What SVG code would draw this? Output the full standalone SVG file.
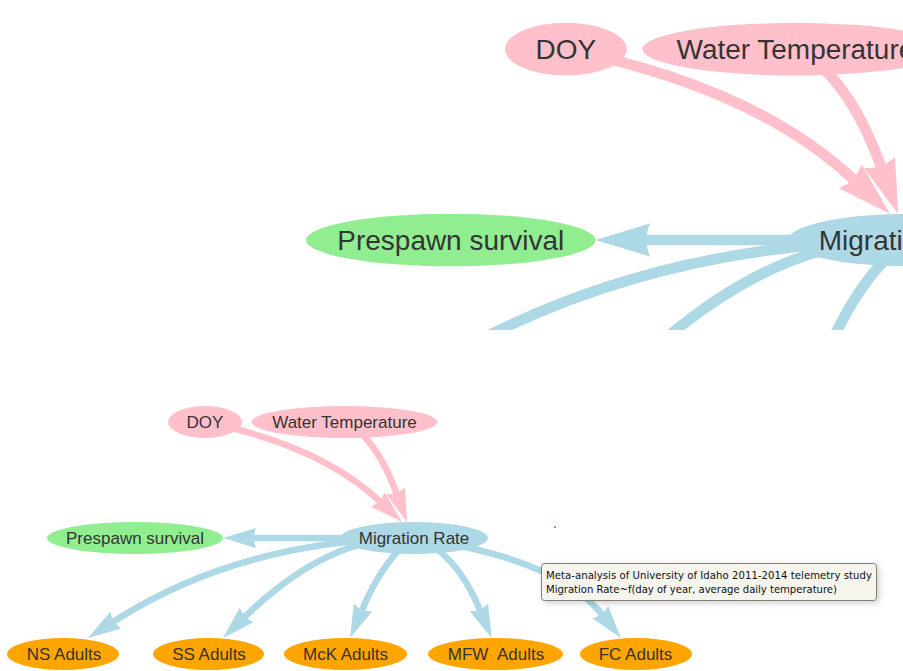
<svg xmlns="http://www.w3.org/2000/svg" xmlns:xlink="http://www.w3.org/1999/xlink" width="903" height="671" viewBox="0 0 903 671">
  <defs>
    <style>
      .label { font-family: "Liberation Sans", Arial, sans-serif; font-size: 17px; fill: #343434; text-anchor: middle; white-space: pre; }
      .pink { fill: #ffc0cb; }
      .blue { fill: #add8e6; }
      .green { fill: #90ee90; }
      .orange { fill: #ffa500; }
      .edge { fill: none; stroke-width: 6.5; stroke-linecap: butt; }
      .edge-pink { stroke: #ffc0cb; }
      .edge-blue { stroke: #add8e6; }
      .tip-text { font-family: "DejaVu Sans", Verdana, sans-serif; font-size: 10.1px; fill: #111; }
    </style>
    <marker id="arrowPink" markerUnits="userSpaceOnUse" viewBox="-4 -11 36 22" markerWidth="36" markerHeight="22" refX="0" refY="0" orient="auto" overflow="visible">
      <path d="M30,0 L-3,10 L0,0 L-3,-10 Z" fill="#ffc0cb"/>
    </marker>
    <marker id="arrowBlue" markerUnits="userSpaceOnUse" viewBox="-4 -11 36 22" markerWidth="36" markerHeight="22" refX="0" refY="0" orient="auto" overflow="visible">
      <path d="M30,0 L-3,10 L0,0 L-3,-10 Z" fill="#add8e6"/>
    </marker>
    <clipPath id="topClip">
      <rect x="0" y="0" width="903" height="330"/>
    </clipPath>
    <filter id="tipShadow" x="-10%" y="-40%" width="125%" height="190%">
      <feDropShadow dx="2" dy="2" stdDeviation="3" flood-color="#000" flood-opacity="0.2"/>
    </filter>
  </defs>

  <rect x="0" y="0" width="903" height="671" fill="#ffffff"/>

  <!-- enlarged view of the upper-left part of the network -->
  <g clip-path="url(#topClip)">
    <use xlink:href="#network" href="#network" transform="translate(228.7,-645) scale(1.645)"/>
  </g>

  <!-- full network -->
  <g id="network">
    <g id="connectors">
      <path class="edge edge-pink" marker-end="url(#arrowPink)" d="M205,422 Q320,445 380.1,501.5"/>
      <path class="edge edge-pink" marker-end="url(#arrowPink)" d="M344.5,422 Q376,437 396.7,493.8"/>
      <path class="edge edge-blue" marker-end="url(#arrowBlue)" d="M414,538 L253,538"/>
      <path class="edge edge-blue" marker-end="url(#arrowBlue)" d="M414,538 Q240,540 113.2,621.7"/>
      <path class="edge edge-blue" marker-end="url(#arrowBlue)" d="M414,538 Q329.5,534.5 244.5,617.1"/>
      <path class="edge edge-blue" marker-end="url(#arrowBlue)" d="M414,538 Q385,556 361.8,610.4"/>
      <path class="edge edge-blue" marker-end="url(#arrowBlue)" d="M414,538 Q455,550 480.1,610.3"/>
      <path class="edge edge-blue" marker-end="url(#arrowBlue)" d="M414,538 Q557,558 602.25,614.6"/>
    </g>

    <g id="node-doy">
      <ellipse class="pink" cx="205" cy="422" rx="37" ry="16"/>
      <text class="label" x="205" y="428">DOY</text>
    </g>
    <g id="node-water-temperature">
      <ellipse class="pink" cx="344.5" cy="422" rx="93" ry="16"/>
      <text class="label" x="344.5" y="428">Water Temperature</text>
    </g>
    <g id="node-prespawn-survival">
      <ellipse class="green" cx="135" cy="538" rx="88" ry="16"/>
      <text class="label" x="135" y="544">Prespawn survival</text>
    </g>
    <g id="node-migration-rate">
      <ellipse class="blue" cx="414" cy="538" rx="74" ry="16"/>
      <text class="label" x="414" y="544">Migration Rate</text>
    </g>
    <g id="node-ns-adults">
      <ellipse class="orange" cx="63" cy="654" rx="56" ry="16"/>
      <text class="label" x="64" y="660">NS Adults</text>
    </g>
    <g id="node-ss-adults">
      <ellipse class="orange" cx="208.5" cy="654" rx="55.5" ry="16"/>
      <text class="label" x="209" y="660">SS Adults</text>
    </g>
    <g id="node-mck-adults">
      <ellipse class="orange" cx="345.5" cy="654" rx="61.5" ry="16"/>
      <text class="label" x="345.5" y="660">McK Adults</text>
    </g>
    <g id="node-mfw-adults">
      <ellipse class="orange" cx="495.5" cy="654" rx="67.5" ry="16"/>
      <text class="label" x="496" y="660" xml:space="preserve">MFW  Adults</text>
    </g>
    <g id="node-fc-adults">
      <ellipse class="orange" cx="636" cy="654" rx="56" ry="16"/>
      <text class="label" x="635.5" y="660">FC Adults</text>
    </g>
  </g>

  <!-- hover tooltip for the Migration Rate node -->
  <g id="tooltip">
    <rect x="541.5" y="563.5" width="335" height="37" rx="3" fill="#f5f4ed" stroke="#808074" stroke-width="1" filter="url(#tipShadow)"/>
    <text class="tip-text" x="546" y="579" textLength="326">Meta-analysis of University of Idaho 2011-2014 telemetry study</text>
    <text class="tip-text" x="546" y="593" textLength="291">Migration Rate~f(day of year, average daily temperature)</text>
  </g>

  <!-- stray cursor pixel -->
  <rect x="554" y="526" width="2" height="2" fill="#e0507a" opacity="0.8"/>
</svg>
